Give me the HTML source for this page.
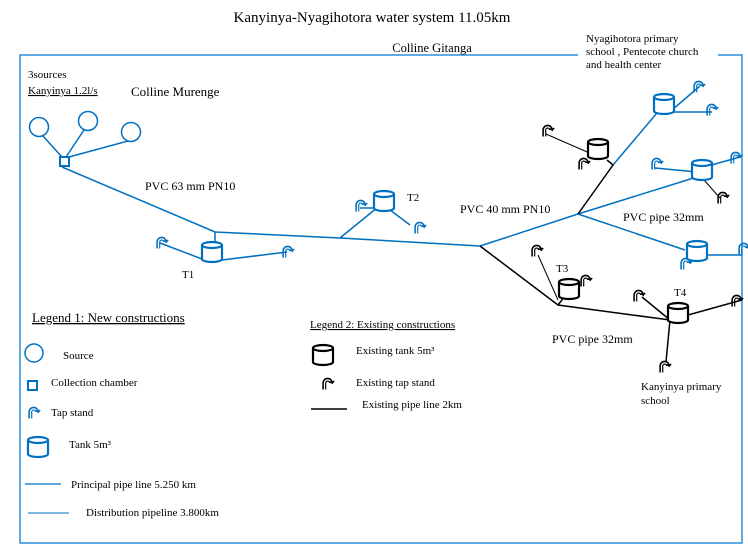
<!DOCTYPE html>
<html><head><meta charset="utf-8"><style>
html,body{margin:0;padding:0;background:#fff;}
svg{display:block;font-family:"Liberation Serif",serif;}
</style></head><body>
<svg width="748" height="554" viewBox="0 0 748 554" xmlns="http://www.w3.org/2000/svg">
<defs>
<g id="tb"><path d="M-10,-7 v14 a10,3 0 0 0 20,0 v-14" fill="#fff" stroke="#0070c0" stroke-width="2.2"/><ellipse cx="0" cy="-7" rx="10" ry="3" fill="#fff" stroke="#0070c0" stroke-width="2.2"/></g>
<g id="tk"><path d="M-10,-7 v14 a10,3 0 0 0 20,0 v-14" fill="#fff" stroke="#000" stroke-width="2.2"/><ellipse cx="0" cy="-7" rx="10" ry="3" fill="#fff" stroke="#000" stroke-width="2.2"/></g>
<g id="pb" transform="scale(1.3)"><path d="M-3,5 v-5 a3.5,3.5 0 0 1 7,0 l-2,-1 m2,1 l1.5,-1.5" fill="none" stroke="#0070c0" stroke-width="1.2"/><path d="M-1,5 v-5 a1.5,1.5 0 0 1 3,0" fill="none" stroke="#0070c0" stroke-width="0.9"/></g>
<g id="pk" transform="scale(1.3)"><path d="M-3,5 v-5 a3.5,3.5 0 0 1 7,0 l-2,-1 m2,1 l1.5,-1.5" fill="none" stroke="#000" stroke-width="1.2"/><path d="M-1,5 v-5 a1.5,1.5 0 0 1 3,0" fill="none" stroke="#000" stroke-width="0.9"/></g>
</defs>
<text x="372" y="22" font-size="15" text-anchor="middle">Kanyinya-Nyagihotora water system 11.05km</text>
<path d="M578,55 H20 V543 H742 V55 H718" fill="none" stroke="#2e8fd8" stroke-width="1.5"/>
<text x="432" y="52" font-size="12.5" text-anchor="middle">Colline Gitanga</text>
<text x="586" y="42" font-size="11">Nyagihotora primary</text>
<text x="586" y="55" font-size="11">school , Pentecote church</text>
<text x="586" y="68" font-size="11">and health center</text>
<text x="28" y="78" font-size="11">3sources</text>
<text x="28" y="94" font-size="11" text-decoration="underline">Kanyinya 1.2l/s</text>
<text x="131" y="96" font-size="13">Colline Murenge</text>

<g fill="none" stroke="#0070c0" stroke-width="1.5">
<circle cx="39" cy="127" r="9.5"/><circle cx="88" cy="121" r="9.5"/><circle cx="131" cy="132" r="9.5"/>
<rect x="60" y="157" width="9" height="9" stroke-width="2"/>
<path d="M43,136 L62,157 M84,130 L66,157 M128,141 L69,157"/>
<path d="M62,167 L215,232 L340,238 L480,246 L578,214 M215,232 V246 M340,238 L378,207 M578,214 L700,176 M578,214 L685,250 M613,165 L657,113"/>
<path d="M160,243 L202,259 M222,260 L287,252 M360,208 L378,208 M390,210 L410,225 M672,110 L700,86 M673,112 L712,112 M697,172 L655,168 M708,166 L740,157 M708,255 L742,255"/>
</g>
<g fill="none" stroke="#000" stroke-width="1.5">
<path d="M578,214 L613,165 L607,160 M480,246 L558,305 L670,320 L742,300 M558,305 L565,296 M670,320 L666,362 M670,320 L642,297"/>
<path d="M546,134 L594,155 M558,300 L538,255 M704,180 L720,198" stroke-width="1"/>
</g>
<use href="#tb" x="212" y="252"/><use href="#tb" x="384" y="201"/><use href="#tb" x="664" y="104"/><use href="#tb" x="702" y="170"/><use href="#tb" x="697" y="251"/>
<use href="#tk" x="598" y="149"/><use href="#tk" x="569" y="289"/><use href="#tk" x="678" y="313"/>
<use href="#pb" x="161" y="242"/><use href="#pb" x="287" y="251"/><use href="#pb" x="360" y="205"/><use href="#pb" x="419" y="227"/>
<use href="#pb" x="698" y="86"/><use href="#pb" x="711" y="109"/><use href="#pb" x="656" y="163"/><use href="#pb" x="735" y="157"/><use href="#pb" x="743" y="248"/><use href="#pb" x="685" y="263"/>
<use href="#pk" x="547" y="130"/><use href="#pk" x="583" y="163"/><use href="#pk" x="722" y="197"/><use href="#pk" x="536" y="250"/><use href="#pk" x="585" y="280"/><use href="#pk" x="638" y="295"/><use href="#pk" x="736" y="300"/><use href="#pk" x="664" y="366"/>
<text x="145" y="190" font-size="12">PVC 63 mm PN10</text>
<text x="182" y="278" font-size="11">T1</text>
<text x="407" y="201" font-size="11">T2</text>
<text x="460" y="213" font-size="12">PVC 40 mm PN10</text>
<text x="623" y="221" font-size="12">PVC pipe  32mm</text>
<text x="556" y="272" font-size="11">T3</text>
<text x="674" y="296" font-size="11">T4</text>
<text x="552" y="343" font-size="12">PVC pipe  32mm</text>
<text x="641" y="390" font-size="11">Kanyinya primary</text>
<text x="641" y="404" font-size="11">school</text>

<text x="32" y="322" font-size="13" text-decoration="underline">Legend 1: New constructions</text>
<circle cx="34" cy="353" r="9" fill="none" stroke="#0070c0" stroke-width="1.5"/>
<text x="63" y="359" font-size="11">Source</text>
<rect x="28" y="381" width="9" height="9" fill="none" stroke="#0070c0" stroke-width="2"/>
<text x="51" y="386" font-size="11">Collection chamber</text>
<use href="#pb" x="33" y="412"/>
<text x="51" y="416" font-size="11">Tap stand</text>
<use href="#tb" x="38" y="447"/>
<text x="69" y="448" font-size="11">Tank 5m³</text>
<line x1="25" y1="484" x2="61" y2="484" stroke="#0070c0" stroke-width="1.2"/>
<text x="71" y="488" font-size="11">Principal pipe line 5.250 km</text>
<line x1="28" y1="513" x2="69" y2="513" stroke="#0070c0" stroke-width="1"/>
<text x="86" y="516" font-size="11">Distribution pipeline 3.800km</text>

<text x="310" y="328" font-size="11" text-decoration="underline">Legend 2: Existing constructions</text>
<use href="#tk" x="323" y="355"/>
<text x="356" y="354" font-size="11">Existing tank 5m³</text>
<use href="#pk" x="327" y="383"/>
<text x="356" y="386" font-size="11">Existing tap stand</text>
<line x1="311" y1="409" x2="347" y2="409" stroke="#000" stroke-width="1.5"/>
<text x="362" y="408" font-size="11">Existing pipe line 2km</text>
</svg>
</body></html>
